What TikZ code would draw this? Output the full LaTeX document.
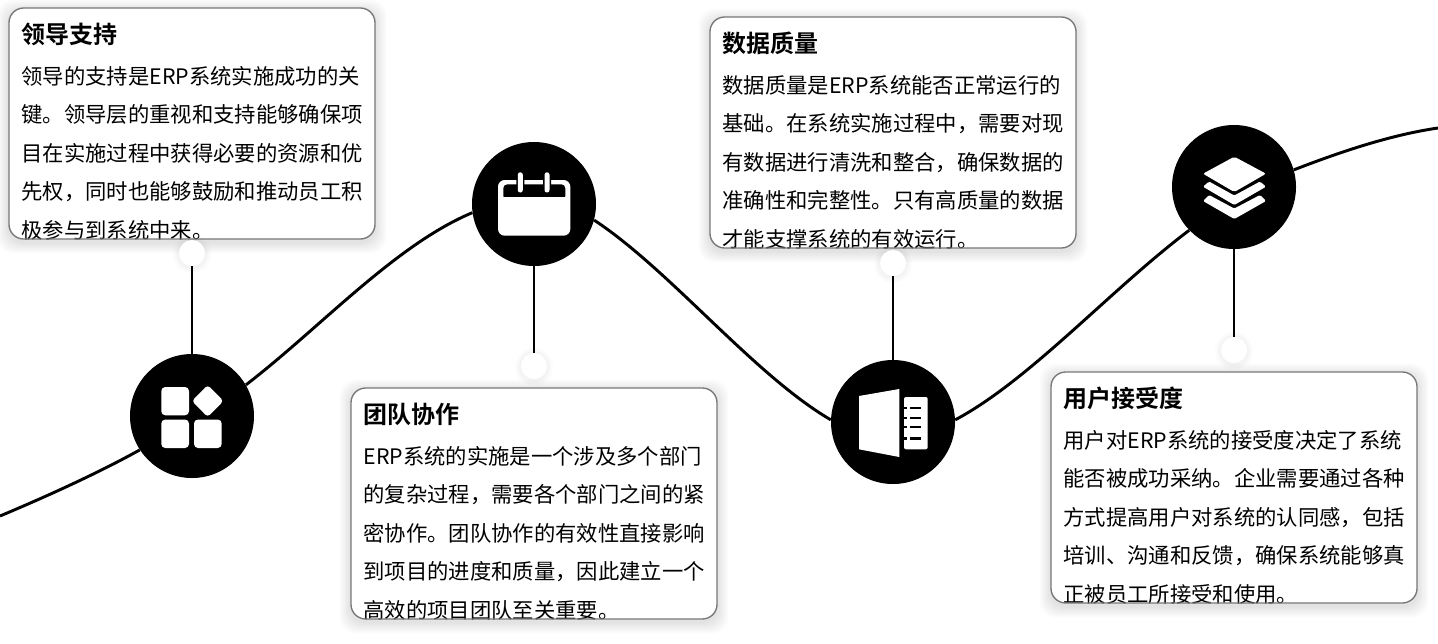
\documentclass[tikz,border=0pt]{standalone}
\usepackage{fontspec}
\setmainfont{Noto Sans CJK SC}
\newfontfamily\titlefont{Noto Sans CJK SC Bold}
\usetikzlibrary{calc}
\definecolor{cardedge}{HTML}{777777}
\tikzset{
  x=.75pt,y=-.75pt,
  hub/.style={circle,fill=black,minimum size=93pt,inner sep=0pt},
  dot/.style={circle,fill=white,minimum size=19.5pt,inner sep=0pt},
  link/.style={line width=2.2pt,black},
  wave/.style={line width=2.2pt,black},
  cardtitle/.style={anchor=base west,inner sep=0pt,font=\titlefont\fontsize{18pt}{20pt}\selectfont},
  cardbody/.style={anchor=base west,inner sep=0pt,align=left,font=\fontsize{16pt}{28.9pt}\selectfont},
  glyph/.style={fill=white,draw=none},
}
% #1 x, #2 y, #3 name, #4 title, #5 body
\newcommand{\infocard}[5]{%
  \foreach \s in {1,...,7}{%
    \fill[black,opacity=.014,rounded corners=12pt]
      ($(#1,#2)+(-\s*1.6,-\s*1.6+3)$) rectangle ($(#1+366,#2+231)+(\s*1.6,\s*1.6+3)$);}
  \fill[white,rounded corners=11pt] (#1,#2) rectangle (#1+366,#2+231);
  \begin{scope}
    \clip[rounded corners=11pt] (#1,#2) rectangle (#1+366,#2+231);
    \node[cardtitle] (#3title) at (#1+12.3,#2+35) {#4};
    \node[cardbody,anchor=north west] (#3body) at (#1+12.3,#2+58) {#5};
  \end{scope}
  \draw[cardedge,line width=1pt,rounded corners=11pt] (#1,#2) rectangle (#1+366,#2+231);
}
\newcommand{\softdot}[3]{%
  \foreach \s in {1,...,4}{\fill[black,opacity=.012] (#1,#2+1) circle ({13+\s*1.5});}
  \node[dot] (#3) at (#1,#2) {};
}
\begin{document}
\begin{tikzpicture}
\useasboundingbox (0,0) rectangle (1438,643);
\fill[white] (0,0) rectangle (1438,643);

\node[hub] (h1) at (192,416) {};
\node[hub] (h2) at (534,204) {};
\node[hub] (h3) at (893,422) {};
\node[hub] (h4) at (1234,187) {};
\coordinate (w0) at (0,516);
\coordinate (w5) at (1438,128);

% wave
\draw[wave] (w0) .. controls (50,495) and (100,472) .. (h1.213);
\draw[wave] (h1.30) .. controls (320,328) and (395,245) .. (h2.188);
\draw[wave] (h2.-15) .. controls (670,270) and (754,375) .. (h3.178);
\draw[wave] (h3.2) .. controls (1030,380) and (1110,290) .. (h4.224);
\draw[wave] (h4.16) .. controls (1340,152) and (1390,135) .. (w5);

% cards
\infocard{9}{8}{c1}{领导支持}{领导的支持是ERP系统实施成功的关\\键。领导层的重视和支持能够确保项\\目在实施过程中获得必要的资源和优\\先权，同时也能够鼓励和推动员工积\\极参与到系统中来。}
\infocard{351}{388}{c2}{团队协作}{ERP系统的实施是一个涉及多个部门\\的复杂过程，需要各个部门之间的紧\\密协作。团队协作的有效性直接影响\\到项目的进度和质量，因此建立一个\\高效的项目团队至关重要。}
\infocard{710}{17}{c3}{数据质量}{数据质量是ERP系统能否正常运行的\\基础。在系统实施过程中，需要对现\\有数据进行清洗和整合，确保数据的\\准确性和完整性。只有高质量的数据\\才能支撑系统的有效运行。}
\infocard{1051}{372}{c4}{用户接受度}{用户对ERP系统的接受度决定了系统\\能否被成功采纳。企业需要通过各种\\方式提高用户对系统的认同感，包括\\培训、沟通和反馈，确保系统能够真\\正被员工所接受和使用。}

% pins
\softdot{192}{253}{d1}
\softdot{534}{366}{d2}
\softdot{893}{263}{d3}
\softdot{1234}{350}{d4}
\draw[link] (d1) -- (h1);
\draw[link] (d2) -- (h2);
\draw[link] (d3) -- (h3);
\draw[link] (d4) -- (h4);

% icon 1
\fill[glyph,rounded corners=3pt] (161.3,387) rectangle (189,415.3);
\fill[glyph,rounded corners=3pt] (161.3,419.5) rectangle (189,448);
\fill[glyph,rounded corners=3pt] (194,419.5) rectangle (221.7,448);
\fill[glyph,rounded corners=2.5pt] (207.7,385) -- (223.5,401) -- (207.7,417) -- (191.9,401) -- cycle;

% icon 2
\fill[glyph,rounded corners=5pt] (498,180) rectangle (570.3,235.7);
\fill[black,rounded corners=3pt] (503.3,184.3) -- (565.3,184.3) -- (565.3,200) -- (503.3,200) -- cycle;
\fill[white] (498,196.7) rectangle (570.3,205);
\foreach \rx in {520.3,547}{
  \fill[black,rounded corners=2pt] (\rx-4,171) rectangle (\rx+4,194);
  \fill[glyph,rounded corners=1.8pt] (\rx-2.5,172.3) rectangle (\rx+2.5,192.5);
}

% icon 3
\fill[glyph] (859,396) -- (899.3,389) -- (899.3,457) -- (859,449.3) -- cycle;
\fill[glyph,rounded corners=1.5pt] (904,397) -- (927.7,397) -- (927.7,449.3) -- (904,449.3) -- cycle;
\foreach \ry in {407.7,417.7,427,438.3}{
  \fill[black] (904,\ry-1.2) rectangle (907,\ry+1.2);
  \fill[black] (910,\ry-1.2) rectangle (921,\ry+1.2);
}

% icon 4
\fill[glyph,rounded corners=1.5pt] (1234.3,156.7) -- (1266,173.7) -- (1234.3,192) -- (1203,173.7) -- cycle;
\fill[glyph,rounded corners=1pt] (1209,181.5) -- (1203,186.7) -- (1234.3,205) -- (1266,186.7) -- (1260,181.5) -- (1234.3,195.5) -- cycle;
\fill[glyph,rounded corners=1pt] (1209,195) -- (1203,201) -- (1234.3,219) -- (1266,201) -- (1260,195) -- (1234.3,208.5) -- cycle;
\end{tikzpicture}
\end{document}
